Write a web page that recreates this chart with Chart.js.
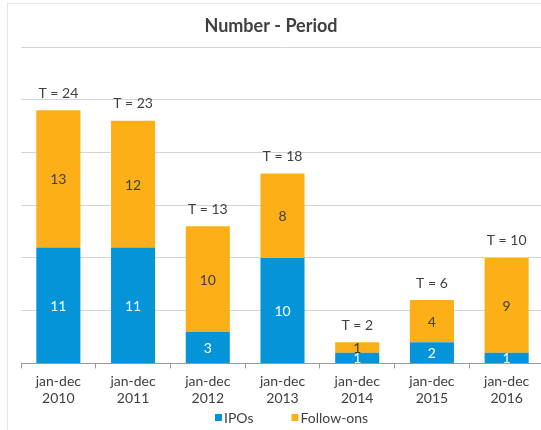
<!DOCTYPE html>
<html>
<head>
<meta charset="utf-8">
<script src="https://cdn.jsdelivr.net/npm/chart.js@4"></script>
<style>
  html, body { margin: 0; padding: 0; background: #fff; overflow: hidden; width: 541px; height: 430px; }
  #frame { position: absolute; left: 7px; top: 3px; width: 600px; height: 500px; border-left: 1px solid #e4e4e4; border-top: 1px solid #e4e4e4; }
  #wrap { position: absolute; left: 0; top: 0; width: 560px; height: 430px; }
</style>
</head>
<body>
<div id="frame"></div>
<div id="wrap"><canvas id="grafico"></canvas></div>
<script>
// datos del grafico
const categorias = [
    ['jan-dec', '2010'], ['jan-dec', '2011'], ['jan-dec', '2012'], ['jan-dec', '2013'],
    ['jan-dec', '2014'], ['jan-dec', '2015'], ['jan-dec', '2016']
];
const ipos = [11, 11, 3, 10, 1, 2, 1];
const followOns = [13, 12, 10, 8, 1, 4, 9];
const titulo = 'Number - Period';

const fuente = 'Lato, "Liberation Sans", sans-serif';
const gris = '#404040';

// etiquetas dentro de las barras, totales, titulo y leyenda
const etiquetasPlugin = {
    id: 'etiquetas',
    afterDatasetsDraw(chart) {
        const ctx = chart.ctx;
        ctx.save();
        ctx.font = '14px ' + fuente;
        ctx.textAlign = 'center';
        ctx.textBaseline = 'middle';
        chart.data.datasets.forEach((ds, i) => {
            const meta = chart.getDatasetMeta(i);
            meta.data.forEach((bar, j) => {
                ctx.fillStyle = i === 0 ? '#ffffff' : gris;
                ctx.fillText(ds.data[j], bar.x, (bar.y + bar.base) / 2 + 1);
            });
        });
        const ultima = chart.getDatasetMeta(chart.data.datasets.length - 1);
        ultima.data.forEach((bar, j) => {
            ctx.fillStyle = gris;
            ctx.fillText('T = ' + (ipos[j] + followOns[j]), bar.x, bar.y - 17);
        });

        // titulo
        ctx.font = 'bold 18px ' + fuente;
        ctx.fillText(titulo, 271, 26);

        // leyenda
        ctx.font = '14px ' + fuente;
        ctx.textAlign = 'left';
        let x = 215;
        chart.data.datasets.forEach(ds => {
            ctx.fillStyle = ds.backgroundColor;
            ctx.fillRect(x, 414, 7, 7);
            ctx.fillStyle = gris;
            ctx.fillText(ds.label, x + 9, 418);
            x += 9 + ctx.measureText(ds.label).width + 38;
        });
        ctx.restore();
    }
};

const grafico = document.querySelector('#grafico');

new Chart(grafico, {
    type: 'bar',
    data: {
        labels: categorias,
        datasets: [
            { label: 'IPOs', data: ipos, backgroundColor: '#0594D8' },
            { label: 'Follow-ons', data: followOns, backgroundColor: '#FCAF17' }
        ]
    },
    options: {
        responsive: true,
        maintainAspectRatio: false,
        animation: false,
        layout: { padding: { left: 21, right: 16, top: 47, bottom: 18 } },
        datasets: { bar: { categoryPercentage: 1, barPercentage: 0.59 } },
        plugins: {
            title: { display: false },
            tooltip: { enabled: false },
            legend: { display: false }
        },
        scales: {
            x: {
                stacked: true,
                border: { color: '#9a9a9a' },
                grid: { offset: true, drawOnChartArea: false, tickLength: 5, color: '#9a9a9a' },
                ticks: { color: gris, padding: 5, font: { family: fuente, size: 14, lineHeight: 1.2 }, maxRotation: 0 }
            },
            y: {
                stacked: true,
                min: 0, max: 30,
                border: { display: false },
                grid: { drawTicks: false, color: '#d4d4d4' },
                ticks: { display: false, stepSize: 5 }
            }
        }
    },
    plugins: [etiquetasPlugin]
});
</script>
</body>
</html>
